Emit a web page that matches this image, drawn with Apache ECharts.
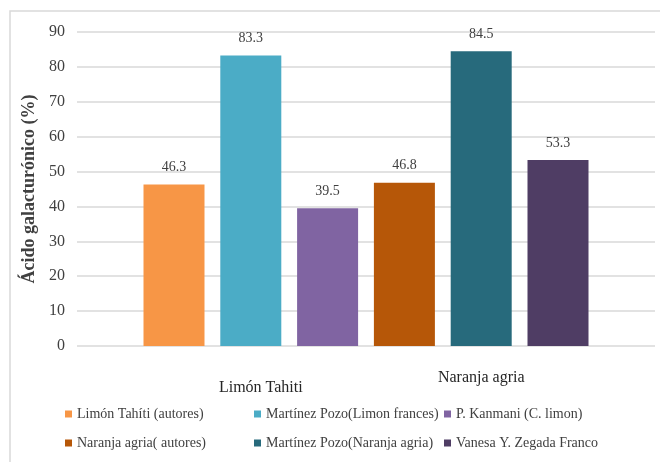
<!DOCTYPE html>
<html>
<head>
<meta charset="utf-8">
<script src="https://cdn.jsdelivr.net/npm/echarts@6/dist/echarts.min.js"></script>
<style>
  html, body { margin: 0; padding: 0; background: #fff; }
  #chart { width: 660px; height: 462px; }
</style>
</head>
<body>
<div id="chart"></div>
<script>
// Series (one bar each), in legend order
const seriesNames = [
  'Limón Tahíti (autores)',
  'Martínez Pozo(Limon frances)',
  'P. Kanmani (C. limon)',
  'Naranja agria( autores)',
  'Martínez Pozo(Naranja agria)',
  'Vanesa Y. Zegada Franco'
];
// Galacturonic acid content (%)
const values = [46.3, 83.3, 39.5, 46.8, 84.5, 53.3];
// Group labels shown under the bar slots
const groupLabels = ['', 'Limón Tahiti', '', '', 'Naranja agria', ''];
// Value axis ticks
const yMin = 0, yMax = 90, yStep = 10;

const colors = ['#F79646', '#4BACC6', '#8064A2', '#B65708', '#276A7C', '#4F3D64'];
const FONT = 'Liberation Serif';

const chart = echarts.init(document.getElementById('chart'), null, { renderer: 'canvas' });

const series = seriesNames.map((name, i) => ({
  name: name,
  type: 'bar',
  xAxisIndex: 1,
  yAxisIndex: 1,
  barWidth: 61,
  barGap: '-100%',
  itemStyle: { color: colors[i] },
  label: {
    show: true,
    position: 'top',
    distance: 10,
    fontFamily: FONT,
    fontSize: 14,
    color: '#404040'
  },
  data: [[i, values[i]]]
}));

const legendText = { fontFamily: FONT, fontSize: 14, color: '#404040' };
const legendCol = (left, names) => ({
  orient: 'vertical',
  left: left,
  top: 402,
  itemWidth: 7,
  itemHeight: 7,
  itemGap: 15,
  icon: 'rect',
  textStyle: legendText,
  data: names
});

chart.setOption({
  backgroundColor: '#fff',
  animation: false,
  graphic: [{
    type: 'rect',
    shape: { x: 10, y: 11, width: 700, height: 500 },
    style: { fill: 'none', stroke: '#d9d9d9', lineWidth: 1.5 },
    silent: true
  }],
  legend: [
    legendCol(60, [seriesNames[0], seriesNames[3]]),
    legendCol(249, [seriesNames[1], seriesNames[4]]),
    legendCol(439, [seriesNames[2], seriesNames[5]])
  ],
  grid: [
    { left: 77, right: 5, top: 32, bottom: 116 },
    { left: 135.6, right: 63.6, top: 32, bottom: 116 }
  ],
  xAxis: [
    {
      gridIndex: 0, type: 'category', data: [''],
      axisLine: { show: false }, axisTick: { show: false }, axisLabel: { show: false }
    },
    {
      gridIndex: 1, type: 'category', data: groupLabels,
      axisLine: { show: false }, axisTick: { show: false },
      axisLabel: {
        interval: 0,
        margin: 24,
        formatter: (v, idx) => v ? (idx < 3 ? '{a|' + v + '}' : '{b|' + v + '}') : '',
        rich: {
          a: { fontFamily: FONT, fontSize: 16, color: '#262626', padding: [10, 0, 0, 20] },
          b: { fontFamily: FONT, fontSize: 16, color: '#262626', padding: [0, 0, 0, 0] }
        }
      }
    }
  ],
  yAxis: [
    {
      gridIndex: 0, type: 'value', min: yMin, max: yMax, interval: yStep,
      name: 'Ácido galacturónico (%)',
      nameLocation: 'middle',
      nameGap: 31,
      nameTextStyle: { fontFamily: FONT, fontSize: 18, fontWeight: 'bold', color: '#404040' },
      axisLine: { show: false }, axisTick: { show: false },
      axisLabel: { fontFamily: FONT, fontSize: 16, color: '#404040', margin: 12 },
      splitLine: { lineStyle: { color: '#d9d9d9', width: 1.5 } }
    },
    {
      gridIndex: 1, type: 'value', min: yMin, max: yMax, interval: yStep,
      show: false, splitLine: { show: false }
    }
  ],
  series: series
});
</script>
</body>
</html>
